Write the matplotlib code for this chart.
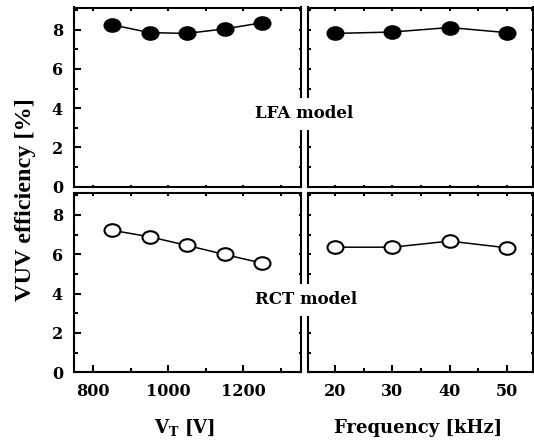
import matplotlib
matplotlib.use("Agg")
import matplotlib.pyplot as plt
from matplotlib.path import Path
from matplotlib.transforms import Affine2D
from matplotlib.ticker import MultipleLocator

vt = [850, 950, 1050, 1150, 1250]
freq = [20, 30, 40, 50]
lfa_vt = [8.25, 7.85, 7.81, 8.04, 8.35]
lfa_freq = [7.81, 7.88, 8.11, 7.85]
rct_vt = [7.22, 6.89, 6.45, 5.99, 5.55]
rct_freq = [6.36, 6.36, 6.67, 6.33]

plt.rcParams['font.family'] = ['DejaVu Serif']
plt.rcParams['font.weight'] = 'bold'
plt.rcParams['mathtext.fontset'] = 'custom'
plt.rcParams['mathtext.rm'] = 'DejaVu Serif:bold'
plt.rcParams['mathtext.it'] = 'DejaVu Serif:bold'
plt.rcParams['mathtext.bf'] = 'DejaVu Serif:bold'

ell = Path.unit_circle().transformed(Affine2D().scale(1.27, 1.0))

fig = plt.figure(figsize=(5.34, 4.45), dpi=100)
W, H = 534, 445
def ax_at(x0, y0, x1, y1):
    return fig.add_axes([x0 / W, 1 - y1 / H, (x1 - x0) / W, (y1 - y0) / H])

axes = {
    'tl': ax_at(74, 7.5, 300.7, 186.7),
    'tr': ax_at(307.7, 7.5, 533, 186.7),
    'bl': ax_at(74, 192.7, 300.7, 372.3),
    'br': ax_at(307.7, 192.7, 533, 372.3),
}

LW = 1.5
LONG_MAJ, LONG_MIN, TINY = 5.0, 3.2, 1.8

def set_x(a, key):
    if key[1] == 'l':
        a.xaxis.set_major_locator(MultipleLocator(200))
        a.xaxis.set_minor_locator(MultipleLocator(100))
    else:
        a.xaxis.set_major_locator(MultipleLocator(10))
        a.xaxis.set_minor_locator(MultipleLocator(5))

def set_y(a):
    a.yaxis.set_major_locator(MultipleLocator(2))
    a.yaxis.set_minor_locator(MultipleLocator(1))

for key, ax in axes.items():
    for s in ax.spines.values():
        s.set_linewidth(LW)
    ax.set_ylim(0, 9.13)
    if key[1] == 'l':
        ax.set_xlim(748.5, 1353)
    else:
        ax.set_xlim(15.2, 54.6)
    set_x(ax, key)
    set_y(ax)

    # x axis
    if key[0] == 'b':
        ax.tick_params(axis='x', which='both', direction='in', bottom=True,
                       top=False, width=LW, labelsize=11.5, pad=7.5)
        ax.tick_params(axis='x', which='major', length=LONG_MAJ)
        ax.tick_params(axis='x', which='minor', length=LONG_MIN)
        sec = ax.secondary_xaxis('top')
        set_x(sec, key)
        sec.tick_params(axis='x', which='both', direction='in', length=TINY,
                        width=LW, labeltop=False)
        sec.spines['top'].set_visible(False)
    else:
        ax.tick_params(axis='x', which='both', direction='in', bottom=True,
                       top=True, length=TINY, width=LW, labelbottom=False)

    # y axis
    if key[1] == 'l':
        ax.tick_params(axis='y', which='both', direction='in', left=True,
                       right=False, width=LW, labelsize=11.5, pad=8)
        ax.tick_params(axis='y', which='major', length=LONG_MAJ)
        ax.tick_params(axis='y', which='minor', length=LONG_MIN)
        sec = ax.secondary_yaxis('right')
        set_y(sec)
        sec.tick_params(axis='y', which='both', direction='in', length=TINY,
                        width=LW, labelright=False)
        sec.spines['right'].set_visible(False)
    else:
        ax.tick_params(axis='y', which='both', direction='in', left=True,
                       right=True, length=TINY, width=LW, labelleft=False)

mk = dict(marker=ell, markersize=11.5, color='black', lw=1.1,
          markeredgewidth=1.5, clip_on=False)
axes['tl'].plot(vt, lfa_vt, markerfacecolor='black', **mk)
axes['tr'].plot(freq, lfa_freq, markerfacecolor='black', **mk)
axes['bl'].plot(vt, rct_vt, markerfacecolor='white', **mk)
axes['br'].plot(freq, rct_freq, markerfacecolor='white', **mk)

fig.text(26 / W, 1 - 200 / H, 'VUV efficiency [%]', rotation=90,
         ha='center', va='center', fontsize=17.5, fontweight='bold',
         family='Liberation Serif')
fig.text(185 / W, 1 - 428 / H, r'V$_{\mathregular{T}}$ [V]',
         ha='center', va='center', fontsize=13, fontweight='bold')
fig.text(418 / W, 1 - 428 / H, 'Frequency [kHz]',
         ha='center', va='center', fontsize=13, fontweight='bold')

box = dict(facecolor='white', edgecolor='none', pad=5.5)
fig.text(304 / W, 1 - 114 / H, 'LFA model', ha='center', va='center',
         fontsize=12, fontweight='bold', bbox=box, zorder=10)
fig.text(306 / W, 1 - 300 / H, 'RCT model', ha='center', va='center',
         fontsize=12, fontweight='bold', bbox=box, zorder=10)

fig.savefig('out.png', dpi=100)
